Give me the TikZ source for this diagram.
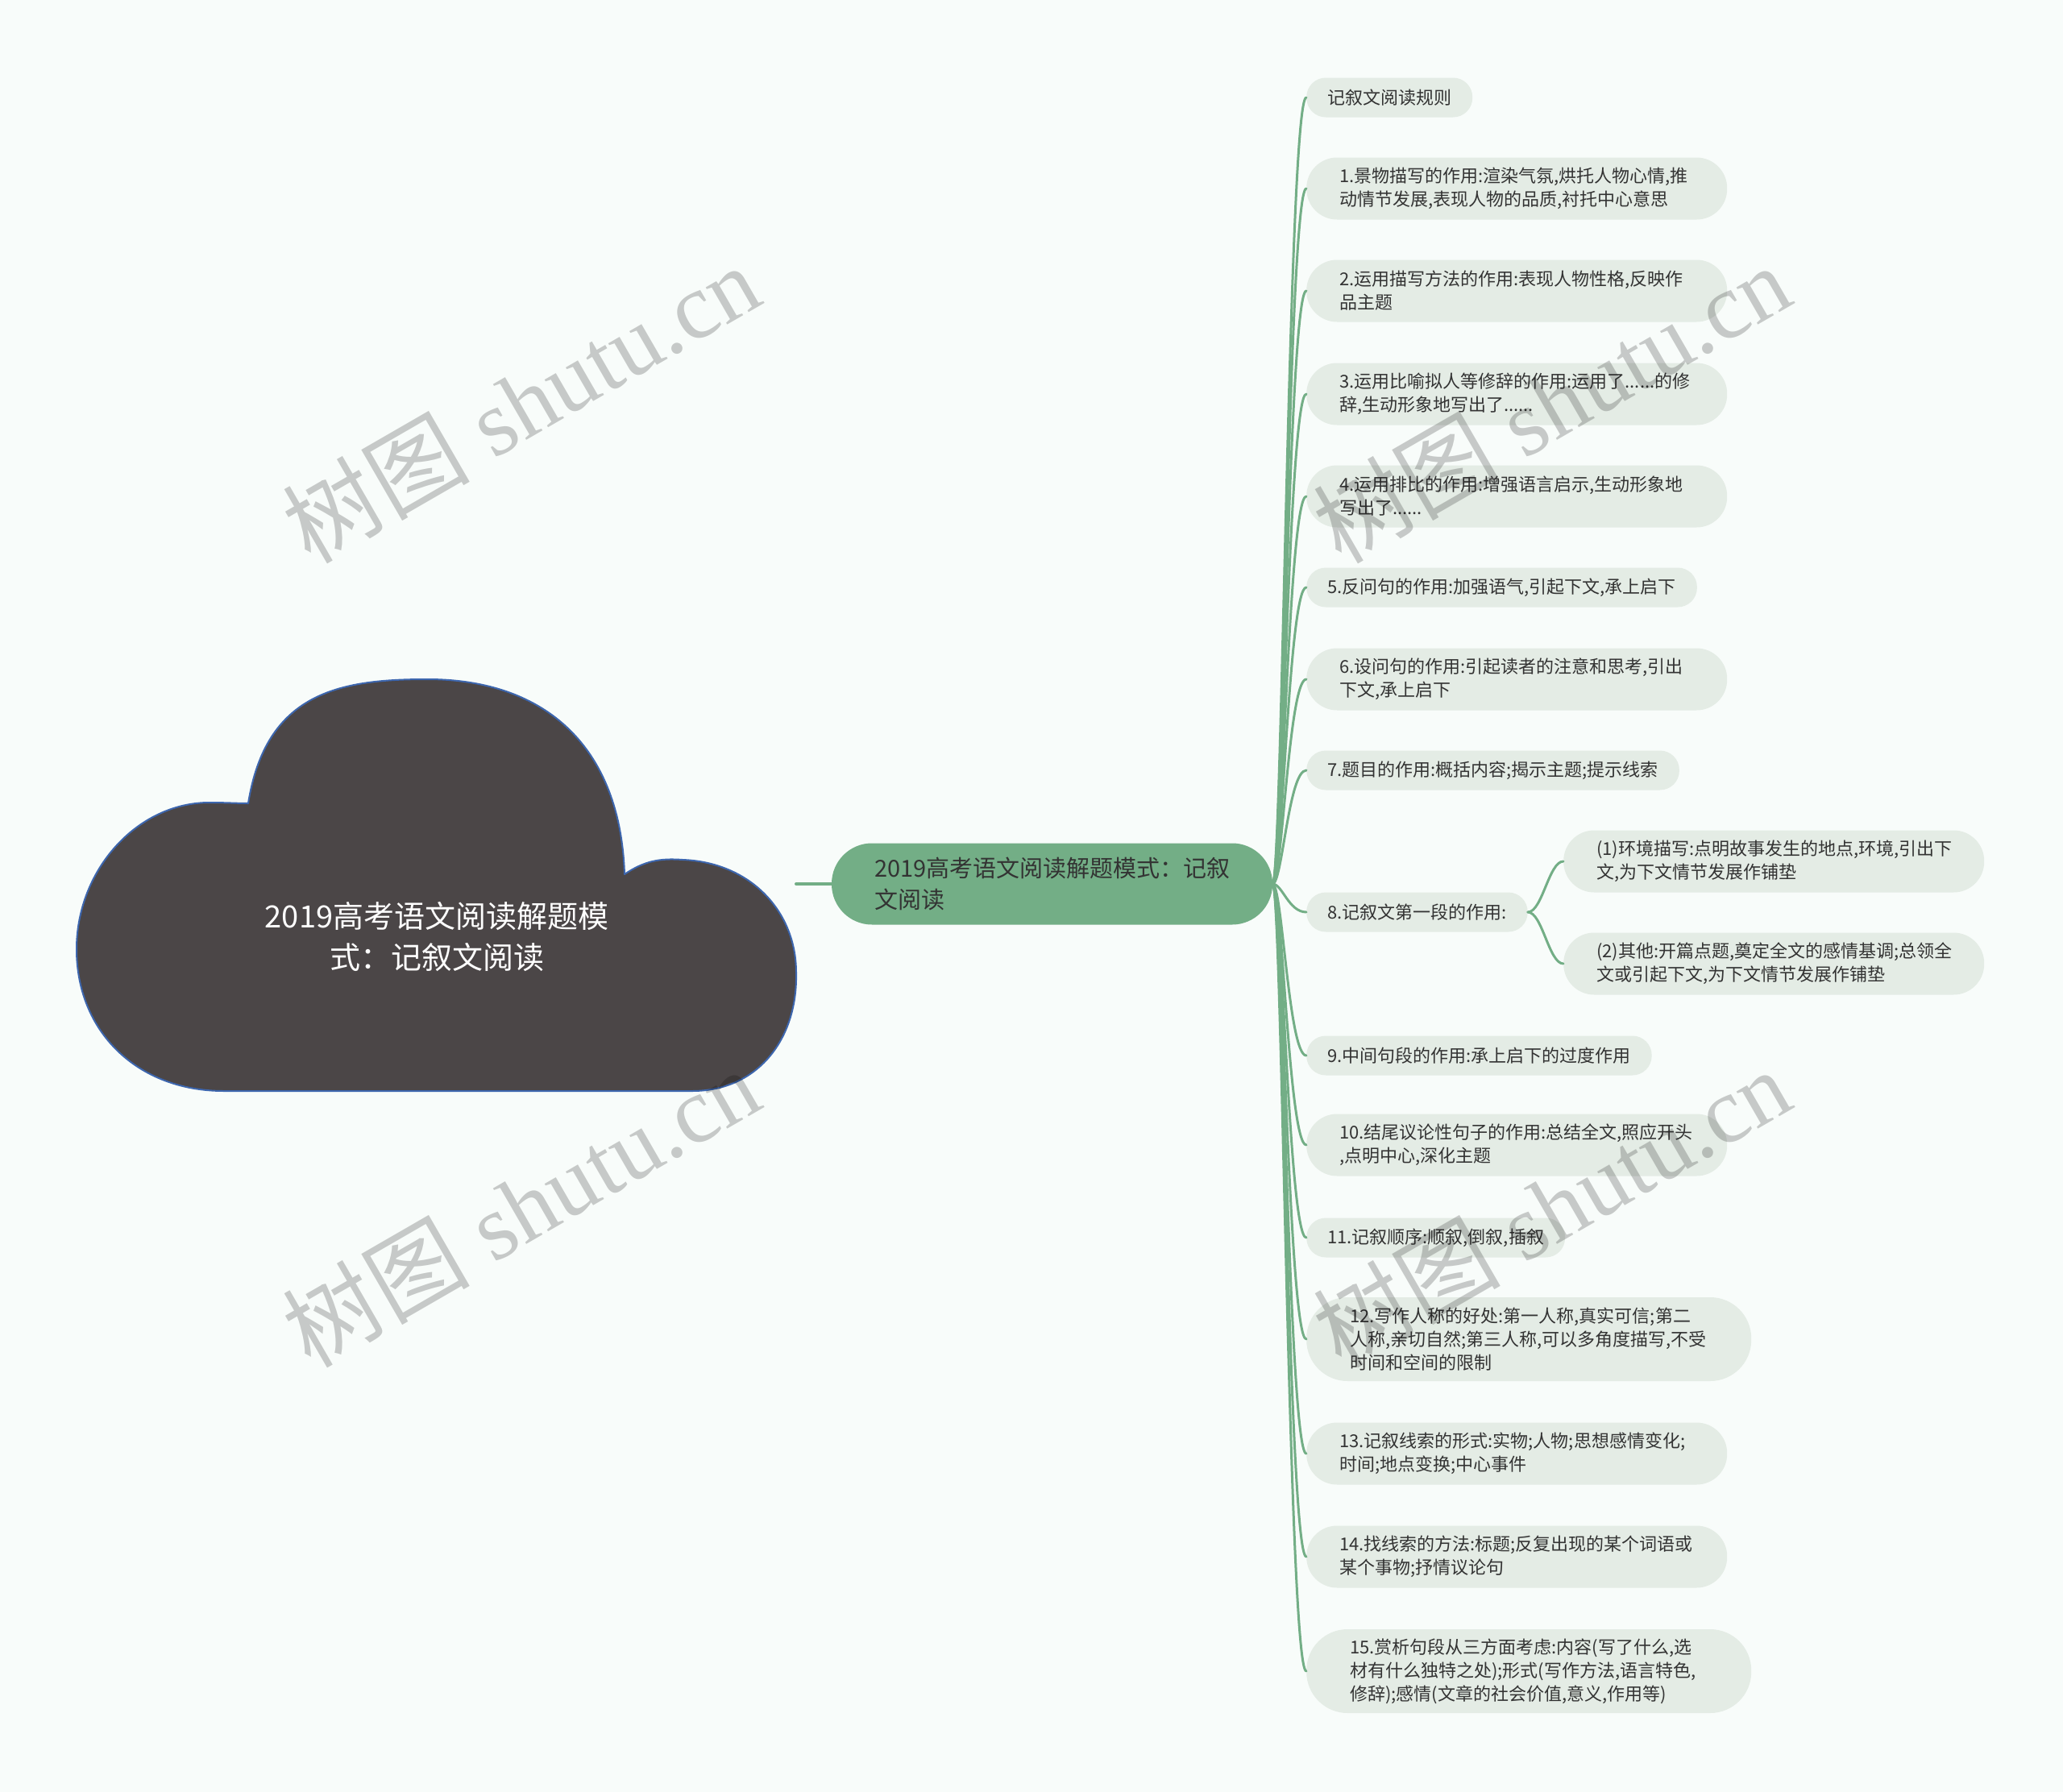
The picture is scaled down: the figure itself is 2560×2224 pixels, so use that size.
\documentclass[tikz,border=0pt]{standalone}
\usepackage{fontspec}
\setmainfont{Noto Sans CJK SC}
\newfontfamily\wmlatin{Liberation Serif}
\definecolor{mapgreen}{HTML}{73AE86}
\definecolor{leafgray}{HTML}{E4ECE5}
\definecolor{cloudgray}{HTML}{4B4647}
\definecolor{cloudblue}{HTML}{3D66AE}
\definecolor{paperwhite}{HTML}{F8FCFA}
\definecolor{inkgray}{HTML}{333333}

\begin{document}
\begin{tikzpicture}[x=1pt, y=-1pt, line cap=round, line join=round,
    leaf/.style={fill=leafgray, rounded corners=24pt, anchor=west, text=inkgray, align=left,
      font=\fontsize{22}{29}\selectfont, minimum height=49pt, inner xsep=26pt, inner ysep=0pt},
    leaftwo/.style={leaf, rounded corners=38pt, minimum height=77pt, text width=440pt, inner xsep=41pt},
    leafthree/.style={leaf, rounded corners=51pt, minimum height=104pt, text width=444pt, inner xsep=54pt},
    branch/.style={draw=mapgreen, line width=3pt},
    watermark/.style={black, opacity=0.2, rotate=30, font=\fontsize{116}{116}\selectfont}]
      % Fondo
      \fill[paperwhite] (0,0) rectangle (2560,2224);
      \useasboundingbox (0,0) rectangle (2560,2224);

      % Nube
      \filldraw[fill=cloudgray, draw=cloudblue, line width=2pt]
        (308,997) .. controls (330,860) and (420,843) .. (530,843)
        .. controls (680,843) and (770,930) .. (775,1085)
        .. controls (800,1068) and (820,1065) .. (847,1067)
        .. controls (930,1070) and (988,1130) .. (988,1207)
        .. controls (990,1290) and (940,1354) .. (859,1354)
        -- (278,1354)
        .. controls (170,1354) and (95,1280) .. (95,1178)
        .. controls (95,1080) and (170,996) .. (260,996)
        .. controls (280,996) and (295,997) .. (308,997) -- cycle;
      \node[text=white, align=center, font=\fontsize{38}{51}\selectfont] (root) at (542,1163)
        {2019高考语文阅读解题模\\式：记叙文阅读};
      \coordinate (rootE) at (988,1097);

      % Nodo central
      \node[fill=mapgreen, rounded corners=50pt, minimum height=101pt, text width=441pt, inner xsep=53pt,
        align=left, text=inkgray, font=\fontsize{29}{39}\selectfont] (hub) at (1305.5,1097)
        {2019高考语文阅读解题模式：记叙\\文阅读};
      \draw[mapgreen, line width=4pt] (rootE) -- (hub.west);

      % Hojas
      \node[leaf] (n0) at (1621,121) {记叙文阅读规则};
      \node[leaftwo] (n1) at (1621,234) {1.景物描写的作用:渲染气氛,烘托人物心情,推\\动情节发展,表现人物的品质,衬托中心意思};
      \node[leaftwo] (n2) at (1621,361) {2.运用描写方法的作用:表现人物性格,反映作\\品主题};
      \node[leaftwo] (n3) at (1621,489) {3.运用比喻拟人等修辞的作用:运用了......的修\\辞,生动形象地写出了......};
      \node[leaftwo] (n4) at (1621,616) {4.运用排比的作用:增强语言启示,生动形象地\\写出了......};
      \node[leaf] (n5) at (1621,729) {5.反问句的作用:加强语气,引起下文,承上启下};
      \node[leaftwo] (n6) at (1621,843) {6.设问句的作用:引起读者的注意和思考,引出\\下文,承上启下};
      \node[leaf] (n7) at (1621,956) {7.题目的作用:概括内容;揭示主题;提示线索};
      \node[leaf] (n8) at (1621,1132) {8.记叙文第一段的作用:};
      \node[leaftwo] (n8a) at (1940,1069) {(1)环境描写:点明故事发生的地点,环境,引出下\\文,为下文情节发展作铺垫};
      \node[leaftwo] (n8b) at (1940,1196) {(2)其他:开篇点题,奠定全文的感情基调;总领全\\文或引起下文,为下文情节发展作铺垫};
      \node[leaf] (n9) at (1621,1310) {9.中间句段的作用:承上启下的过度作用};
      \node[leaftwo] (n10) at (1621,1421) {10.结尾议论性句子的作用:总结全文,照应开头\\,点明中心,深化主题};
      \node[leaf] (n11) at (1621,1536) {11.记叙顺序:顺叙,倒叙,插叙};
      \node[leafthree] (n12) at (1621,1662) {12.写作人称的好处:第一人称,真实可信;第二\\人称,亲切自然;第三人称,可以多角度描写,不受\\时间和空间的限制};
      \node[leaftwo] (n13) at (1621,1804) {13.记叙线索的形式:实物;人物;思想感情变化;\\时间;地点变换;中心事件};
      \node[leaftwo] (n14) at (1621,1932) {14.找线索的方法:标题;反复出现的某个词语或\\某个事物;抒情议论句};
      \node[leafthree] (n15) at (1621,2074) {15.赏析句段从三方面考虑:内容(写了什么,选\\材有什么独特之处);形式(写作方法,语言特色,\\修辞);感情(文章的社会价值,意义,作用等)};

      % Ramas
      \foreach \leafname in {n0,n1,n2,n3,n4,n5,n6,n7,n8,n9,n10,n11,n12,n13,n14,n15}
        \draw[branch] (hub.east) .. controls +(12,0) and +(-22,0) .. (\leafname.west);
      \draw[branch] (n8.east) .. controls +(18,0) and +(-18,0) .. (n8a.west);
      \draw[branch] (n8.east) .. controls +(18,0) and +(-18,0) .. (n8b.west);

      % Marca de agua
      \node[watermark] (wm1) at (646,500) {树图\hspace{30pt}{\wmlatin shutu.cn}};
      \node[watermark] (wm2) at (1925,500) {树图\hspace{30pt}{\wmlatin shutu.cn}};
      \node[watermark] (wm3) at (646,1498) {树图\hspace{30pt}{\wmlatin shutu.cn}};
      \node[watermark] (wm4) at (1925,1498) {树图\hspace{30pt}{\wmlatin shutu.cn}};
    \end{tikzpicture}
\end{document}
